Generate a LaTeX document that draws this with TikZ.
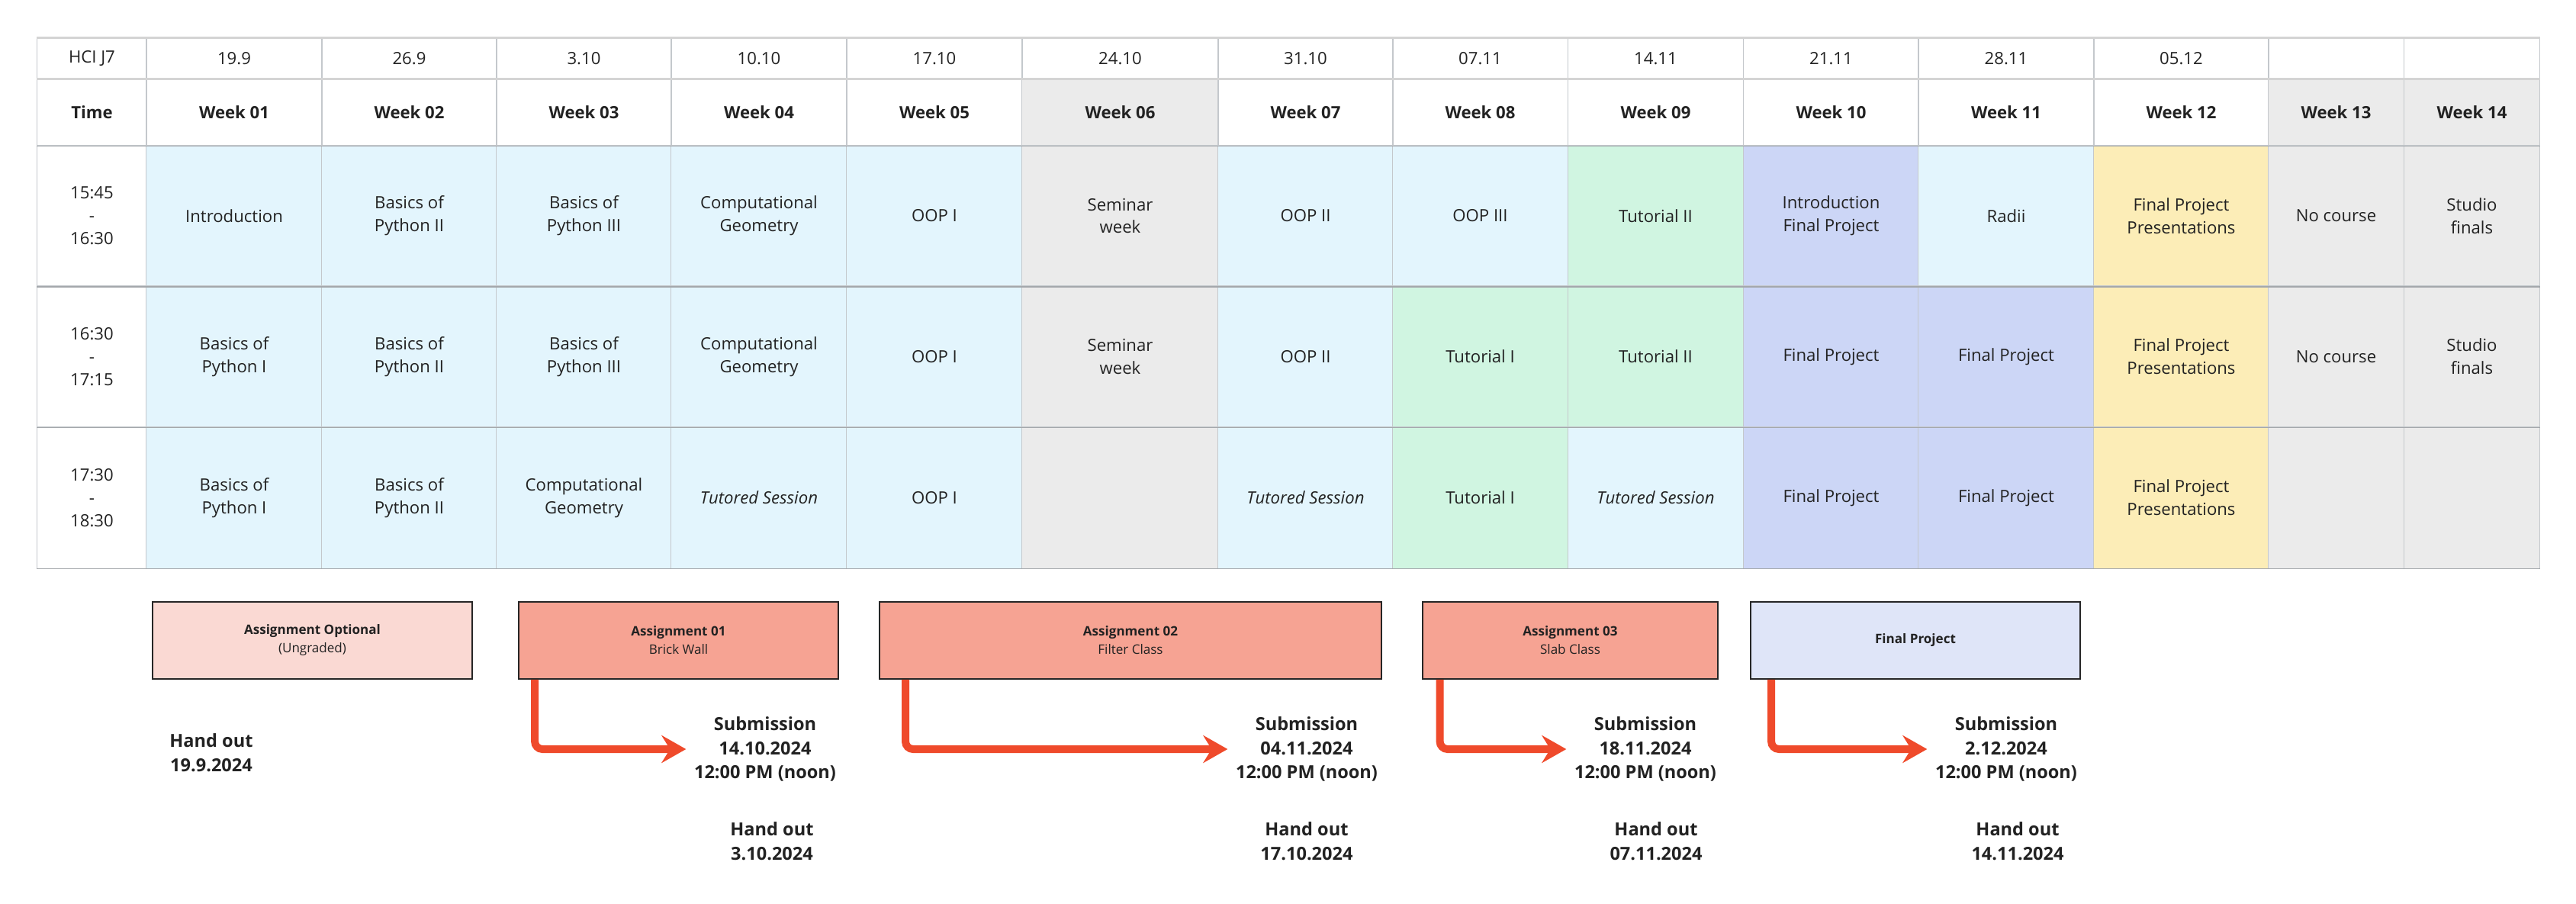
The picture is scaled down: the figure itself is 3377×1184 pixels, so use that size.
\documentclass[tikz,border=0pt]{standalone}
\usepackage{fontspec}
\setmainfont{Open Sans}
\usetikzlibrary{arrows.meta}

\definecolor{ink}{HTML}{222222}
\definecolor{gridgray}{HTML}{C4C8CC}
\definecolor{rulegray}{HTML}{A4A8AC}
\definecolor{topgray}{HTML}{D4D4D4}
\definecolor{pyblue}{HTML}{E3F5FD}
\definecolor{offgray}{HTML}{EBEBEB}
\definecolor{tutgreen}{HTML}{D0F5E1}
\definecolor{fpblue}{HTML}{CCD6F6}
\definecolor{presyellow}{HTML}{FCEDB7}
\definecolor{optpink}{HTML}{FAD9D3}
\definecolor{asgsalmon}{HTML}{F6A393}
\definecolor{fplight}{HTML}{DFE5F8}
\definecolor{duered}{HTML}{EF4A2B}

\newcommand{\tabfont}{\fontsize{6.3}{8.5}\selectfont}
\newcommand{\boxfont}{\fontsize{4.85}{6.8}\selectfont}
\newcommand{\notefont}{\fontsize{6.7}{9}\selectfont\bfseries}

\tikzset{
  cell/.style={draw=gridgray, line width=0.3pt, minimum width=2.3cm, inner sep=0pt,
    align=center, text=ink, font=\tabfont},
  daterow/.style={cell, minimum height=0.53cm},
  weekrow/.style={cell, minimum height=0.88cm, font=\tabfont\bfseries},
  slot/.style={cell, minimum height=1.85cm},
  timecol/.style={minimum width=1.43cm},
  widecol/.style={minimum width=2.57cm},
  narrowcol/.style={minimum width=1.78cm},
  py/.style={fill=pyblue},
  gr/.style={fill=offgray},
  tut/.style={fill=tutgreen},
  fp/.style={fill=fpblue},
  pres/.style={fill=presyellow},
  rowline/.style={draw=rulegray, line width=0.35pt},
  headline/.style={draw=topgray, line width=0.7pt},
  asg/.style={draw=black!85, line width=0.45pt, inner sep=0pt, align=center,
    minimum height=1.01cm, text=ink, font=\boxfont},
  note/.style={align=center, inner sep=0.1cm, text=ink, font=\notefont},
  subarrow/.style={draw=duered, line width=0.1cm, rounded corners=0.1cm,
    -{Stealth[length=3.2mm, width=3.6mm, inset=1.1mm]}}
}

\begin{document}
\begin{tikzpicture}[x=0.01cm, y=-0.01cm]
\useasboundingbox (0,0) rectangle (3377,1184);

% dates
\node[daterow, timecol] (d0) at (120.5,76.5) {HCI J7};
\node[daterow] (d1) at (307,76.5) {19.9};
\node[daterow] (d2) at (536.5,76.5) {26.9};
\node[daterow] (d3) at (765.5,76.5) {3.10};
\node[daterow] (d4) at (995,76.5) {10.10};
\node[daterow] (d5) at (1225,76.5) {17.10};
\node[daterow, widecol] (d6) at (1468.5,76.5) {24.10};
\node[daterow] (d7) at (1711.5,76.5) {31.10};
\node[daterow] (d8) at (1940.5,76.5) {07.11};
\node[daterow] (d9) at (2170.5,76.5) {14.11};
\node[daterow] (d10) at (2400.5,76.5) {21.11};
\node[daterow] (d11) at (2630,76.5) {28.11};
\node[daterow] (d12) at (2859.5,76.5) {05.12};
\node[daterow, narrowcol] (d13) at (3062.5,76.5) {};
\node[daterow, narrowcol] (d14) at (3240.5,76.5) {};

% weeks
\node[weekrow, timecol] (w0) at (120.5,147) {Time};
\node[weekrow] (w1) at (307,147) {Week 01};
\node[weekrow] (w2) at (536.5,147) {Week 02};
\node[weekrow] (w3) at (765.5,147) {Week 03};
\node[weekrow] (w4) at (995,147) {Week 04};
\node[weekrow] (w5) at (1225,147) {Week 05};
\node[weekrow, widecol, gr] (w6) at (1468.5,147) {Week 06};
\node[weekrow] (w7) at (1711.5,147) {Week 07};
\node[weekrow] (w8) at (1940.5,147) {Week 08};
\node[weekrow] (w9) at (2170.5,147) {Week 09};
\node[weekrow] (w10) at (2400.5,147) {Week 10};
\node[weekrow] (w11) at (2630,147) {Week 11};
\node[weekrow] (w12) at (2859.5,147) {Week 12};
\node[weekrow, narrowcol, gr] (w13) at (3062.5,147) {Week 13};
\node[weekrow, narrowcol, gr] (w14) at (3240.5,147) {Week 14};

% 15:45 - 16:30
\node[slot, timecol] (r1-00) at (120.5,283) {15:45\\-\\16:30};
\node[slot, py] (r1-01) at (307,283) {Introduction};
\node[slot, py] (r1-02) at (536.5,283) {Basics of\\Python II};
\node[slot, py] (r1-03) at (765.5,283) {Basics of\\Python III};
\node[slot, py] (r1-04) at (995,283) {Computational\\Geometry};
\node[slot, py] (r1-05) at (1225,283) {OOP I};
\node[slot, widecol, gr] (r1-06) at (1468.5,283) {Seminar\\week};
\node[slot, py] (r1-07) at (1711.5,283) {OOP II};
\node[slot, py] (r1-08) at (1940.5,283) {OOP III};
\node[slot, tut] (r1-09) at (2170.5,283) {Tutorial II};
\node[slot, fp] (r1-10) at (2400.5,283) {Introduction\\Final Project};
\node[slot, py] (r1-11) at (2630,283) {Radii};
\node[slot, pres] (r1-12) at (2859.5,283) {Final Project\\Presentations};
\node[slot, narrowcol, gr] (r1-13) at (3062.5,283) {No course};
\node[slot, narrowcol, gr] (r1-14) at (3240.5,283) {Studio\\finals};

% 16:30 - 17:15
\node[slot, timecol] (r2-00) at (120.5,467.5) {16:30\\-\\17:15};
\node[slot, py] (r2-01) at (307,467.5) {Basics of\\Python I};
\node[slot, py] (r2-02) at (536.5,467.5) {Basics of\\Python II};
\node[slot, py] (r2-03) at (765.5,467.5) {Basics of\\Python III};
\node[slot, py] (r2-04) at (995,467.5) {Computational\\Geometry};
\node[slot, py] (r2-05) at (1225,467.5) {OOP I};
\node[slot, widecol, gr] (r2-06) at (1468.5,467.5) {Seminar\\week};
\node[slot, py] (r2-07) at (1711.5,467.5) {OOP II};
\node[slot, tut] (r2-08) at (1940.5,467.5) {Tutorial I};
\node[slot, tut] (r2-09) at (2170.5,467.5) {Tutorial II};
\node[slot, fp] (r2-10) at (2400.5,467.5) {Final Project};
\node[slot, fp] (r2-11) at (2630,467.5) {Final Project};
\node[slot, pres] (r2-12) at (2859.5,467.5) {Final Project\\Presentations};
\node[slot, narrowcol, gr] (r2-13) at (3062.5,467.5) {No course};
\node[slot, narrowcol, gr] (r2-14) at (3240.5,467.5) {Studio\\finals};

% 17:30 - 18:30
\node[slot, timecol] (r3-00) at (120.5,652.5) {17:30\\-\\18:30};
\node[slot, py] (r3-01) at (307,652.5) {Basics of\\Python I};
\node[slot, py] (r3-02) at (536.5,652.5) {Basics of\\Python II};
\node[slot, py] (r3-03) at (765.5,652.5) {Computational\\Geometry};
\node[slot, py] (r3-04) at (995,652.5) {\itshape Tutored Session};
\node[slot, py] (r3-05) at (1225,652.5) {OOP I};
\node[slot, widecol, gr] (r3-06) at (1468.5,652.5) {};
\node[slot, py] (r3-07) at (1711.5,652.5) {\itshape Tutored Session};
\node[slot, tut] (r3-08) at (1940.5,652.5) {Tutorial I};
\node[slot, py] (r3-09) at (2170.5,652.5) {\itshape Tutored Session};
\node[slot, fp] (r3-10) at (2400.5,652.5) {Final Project};
\node[slot, fp] (r3-11) at (2630,652.5) {Final Project};
\node[slot, pres] (r3-12) at (2859.5,652.5) {Final Project\\Presentations};
\node[slot, narrowcol, gr] (r3-13) at (3062.5,652.5) {};
\node[slot, narrowcol, gr] (r3-14) at (3240.5,652.5) {};

% horizontal rules
\draw[headline] (d0.north west) -- (d14.north east);
\draw[headline] (d0.south west) -- (d14.south east);
\draw[rowline] (w0.south west) -- (w14.south east);
\draw[rowline] (r1-00.south west) -- (r1-14.south east);
\draw[rowline] (r2-00.south west) -- (r2-14.south east);
\draw[rowline] (r3-00.south west) -- (r3-14.south east);

% assignments
\node[asg, fill=optpink, minimum width=4.19cm] (a0) at (409.5,839.5)
  {\textbf{Assignment Optional}\\(Ungraded)};
\node[asg, fill=asgsalmon, minimum width=4.19cm] (a1) at (889.5,839.5)
  {\textbf{Assignment 01}\\Brick Wall};
\node[asg, fill=asgsalmon, minimum width=6.58cm] (a2) at (1482,839.5)
  {\textbf{Assignment 02}\\Filter Class};
\node[asg, fill=asgsalmon, minimum width=3.87cm] (a3) at (2058.5,839.5)
  {\textbf{Assignment 03}\\Slab Class};
\node[asg, fill=fplight, minimum width=4.32cm] (a4) at (2511,839.5)
  {\textbf{Final Project}};

% hand out / submission
\node[note] (ho0) at (277,987) {Hand out\\19.9.2024};
\node[note] (sub1) at (1003,982) {Submission\\14.10.2024\\12:00 PM (noon)};
\node[note] (ho1) at (1012,1103) {Hand out\\3.10.2024};
\node[note] (sub2) at (1713,982) {Submission\\04.11.2024\\12:00 PM (noon)};
\node[note] (ho2) at (1713,1103) {Hand out\\17.10.2024};
\node[note] (sub3) at (2157,982) {Submission\\18.11.2024\\12:00 PM (noon)};
\node[note] (ho3) at (2171,1103) {Hand out\\07.11.2024};
\node[note] (sub4) at (2630,982) {Submission\\2.12.2024\\12:00 PM (noon)};
\node[note] (ho4) at (2645,1103) {Hand out\\14.11.2024};

\draw[subarrow] ([xshift=0.22cm]a1.south west) |- (sub1.west);
\draw[subarrow] ([xshift=0.35cm]a2.south west) |- (sub2.west);
\draw[subarrow] ([xshift=0.235cm]a3.south west) |- (sub3.west);
\draw[subarrow] ([xshift=0.28cm]a4.south west) |- (sub4.west);
\end{tikzpicture}
\end{document}
